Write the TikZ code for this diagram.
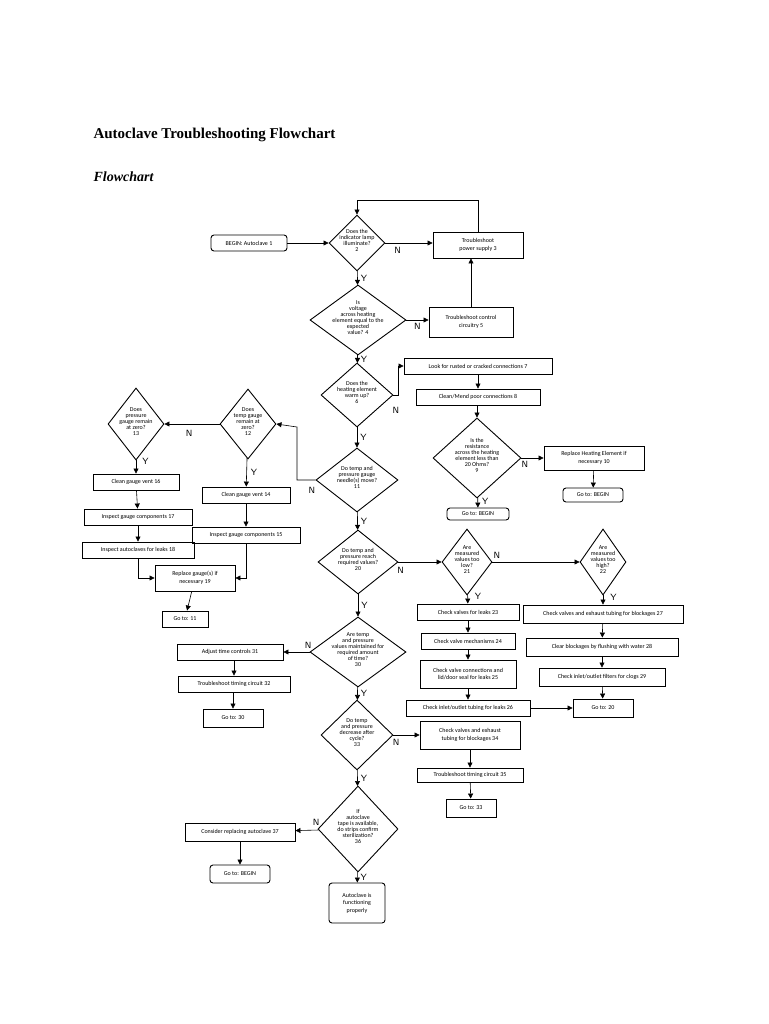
\documentclass[tikz,border=0pt]{standalone}
\usepackage{fontspec}
\setmainfont{Liberation Serif}
\newfontfamily\boxfont{Carlito}
\usetikzlibrary{shapes.geometric,arrows.meta}
\newcommand{\dtext}[1]{\smash{\makebox[0pt]{\renewcommand\arraystretch{0.8}\begin{tabular}{@{}c@{}}#1\end{tabular}}}}
\tikzset{
  box/.style={draw,line width=0.9pt,inner sep=1pt,align=center,font=\boxfont\fontsize{6}{7.5}\selectfont},
  rbox/.style={box,rounded corners=3pt},
  dia/.style={draw,diamond,line width=0.9pt,inner sep=0pt,font=\boxfont\fontsize{6}{7.5}\selectfont},
  arr/.style={line width=0.6pt,-{Triangle[length=5pt,width=5pt]}},
  ln/.style={font=\sffamily\fontsize{9}{9}\selectfont,inner sep=1pt}
}
\begin{document}
\begin{tikzpicture}[x=1pt,y=-1pt]
\useasboundingbox (0,0) rectangle (768,1024);
\node[anchor=west,font=\bfseries\fontsize{15}{15}\selectfont] (title) at (90,135) {Autoclave Troubleshooting Flowchart};
\node[anchor=west,font=\bfseries\itshape\fontsize{14}{14}\selectfont] (sub) at (90,177) {Flowchart};

% nodes
\node[rbox,minimum width=76pt,minimum height=16pt] (begin) at (249,243) {BEGIN: Autoclave 1};
\node[dia,minimum width=56pt,minimum height=56pt] (d2) at (357,243) {\dtext{Does the\\indicator lamp\\illuminate?\\2}};
\node[box,minimum width=90pt,minimum height=26pt] (p3) at (478,245) {Troubleshoot\\power supply 3};
\node[dia,minimum width=96pt,minimum height=70pt] (d4) at (358,320) {\dtext{Is\\voltage\\across heating\\element equal to the\\expected\\value? 4}};
\node[box,minimum width=84pt,minimum height=30pt] (c5) at (471,322) {Troubleshoot control\\circuitry 5};
\node[dia,minimum width=72pt,minimum height=64pt] (d6) at (357,395) {\dtext{Does the\\heating element\\warm up?\\6}};
\node[box,minimum width=148pt,minimum height=16pt] (r7) at (478,366) {Look for rusted or cracked connections 7};
\node[box,minimum width=124pt,minimum height=16pt] (r8) at (478,397) {Clean/Mend poor connections 8};
\node[dia,minimum width=88pt,minimum height=80pt] (d9) at (477,458) {\dtext{Is the\\resistance\\across the heating\\element less than\\20 Ohms?\\9}};
\node[box,minimum width=100pt,minimum height=24pt] (r10) at (594,458) {Replace Heating Element if\\necessary 10};
\node[rbox,minimum width=62pt,minimum height=12pt] (g9) at (478,514) {Go to: BEGIN};
\node[rbox,minimum width=60pt,minimum height=14pt] (g10) at (593,495) {Go to: BEGIN};
\node[dia,minimum width=82pt,minimum height=64pt] (d11) at (357,480) {\dtext{Do temp and\\pressure gauge\\needle(s) move?\\11}};
\node[dia,minimum width=56pt,minimum height=70pt] (d12) at (248,424) {\dtext{Does\\temp gauge\\remain at\\zero?\\12}};
\node[dia,minimum width=56pt,minimum height=72pt] (d13) at (136,424) {\dtext{Does\\pressure\\gauge remain\\at zero?\\13}};
\node[box,minimum width=88pt,minimum height=16pt] (r14) at (246,495) {Clean gauge vent 14};
\node[box,minimum width=108pt,minimum height=16pt] (r15) at (246,535) {Inspect gauge components 15};
\node[box,minimum width=86pt,minimum height=16pt] (r16) at (136,482) {Clean gauge vent 16};
\node[box,minimum width=108pt,minimum height=16pt] (r17) at (138,517) {Inspect gauge components 17};
\node[box,minimum width=112pt,minimum height=16pt] (r18) at (138,550) {Inspect autoclaves for leaks 18};
\node[box,minimum width=80pt,minimum height=26pt] (r19) at (195,578) {Replace gauge(s) if\\necessary 19};
\node[box,minimum width=46pt,minimum height=16pt] (g11) at (185,619) {Go to: 11};
\node[dia,minimum width=80pt,minimum height=64pt] (d20) at (358,562) {\dtext{Do temp and\\pressure reach\\required values?\\20}};
\node[dia,minimum width=50pt,minimum height=66pt] (d21) at (467,562) {\dtext{Are\\measured\\values too\\low?\\21}};
\node[dia,minimum width=46pt,minimum height=66pt] (d22) at (603,562) {\dtext{Are\\measured\\values too\\high?\\22}};
\node[box,minimum width=102pt,minimum height=16pt] (r23) at (468,612) {Check valves for leaks 23};
\node[box,minimum width=94pt,minimum height=16pt] (r24) at (468,641) {Check valve mechanisms 24};
\node[box,minimum width=96pt,minimum height=28pt] (r25) at (468,674) {Check valve connections and\\lid/door seal for leaks 25};
\node[box,minimum width=124pt,minimum height=16pt] (r26) at (468,708) {Check inlet/outlet tubing for leaks 26};
\node[box,minimum width=160pt,minimum height=18pt] (r27) at (603,614) {Check valves and exhaust tubing for blockages 27};
\node[box,minimum width=152pt,minimum height=18pt] (r28) at (602,647) {Clear blockages by flushing with water 28};
\node[box,minimum width=126pt,minimum height=18pt] (r29) at (602,677) {Check inlet/outlet filters for clogs 29};
\node[box,minimum width=60pt,minimum height=18pt] (g20) at (603,708) {Go to: 20};
\node[dia,minimum width=96pt,minimum height=70pt] (d30) at (358,652) {\dtext{Are temp\\and pressure\\values maintained for\\required amount\\of time?\\30}};
\node[box,minimum width=106pt,minimum height=16pt] (r31) at (230,652) {Adjust time controls 31};
\node[box,minimum width=112pt,minimum height=16pt] (r32) at (234,684) {Troubleshoot timing circuit 32};
\node[box,minimum width=60pt,minimum height=18pt] (g30) at (233,718) {Go to: 30};
\node[dia,minimum width=72pt,minimum height=70pt] (d33) at (357,735) {\dtext{Do temp\\and pressure\\decrease after\\cycle?\\33}};
\node[box,minimum width=100pt,minimum height=28pt] (r34) at (470,735) {Check valves and exhaust\\tubing for blockages 34};
\node[box,minimum width=106pt,minimum height=14pt] (r35) at (470,775) {Troubleshoot timing circuit 35};
\node[box,minimum width=50pt,minimum height=18pt] (g33) at (471,808) {Go to: 33};
\node[dia,minimum width=80pt,minimum height=86pt] (d36) at (358,829) {\dtext{If\\autoclave\\tape is available,\\do strips confirm\\sterilization?\\36}};
\node[box,minimum width=110pt,minimum height=18pt] (r37) at (240,832) {Consider replacing autoclave 37};
\node[rbox,minimum width=60pt,minimum height=18pt] (gb2) at (240,874) {Go to: BEGIN};
\node[rbox,minimum width=56pt,minimum height=40pt] (end) at (357,903) {Autoclave is\\functioning\\properly};

% connectors
\draw[arr] (begin) -- (d2);
\draw[arr] (d2) -- (p3.west |- d2) node[ln,pos=0.1,below right=3pt] {N};
\draw[arr] (p3.north) |- (357,200) -- (d2.north);
\draw[arr] (d2) -- (d4) node[ln,midway,right=2pt] {Y};
\draw[arr] (d4) -- (c5.west |- d4) node[ln,pos=0.2,below right=2pt] {N};
\draw[arr] (c5.north) -- (c5.north |- p3.south);
\draw[arr] (d4) -- (d6) node[ln,midway,right=2pt] {Y};
\draw[arr] (d6.east) -- (398,395) |- (r7.west);
\node[ln] (n6) at (396,410) {N};
\draw[arr] (r7) -- (r8);
\draw[arr] (r8.south) -- (r8.south -| d9) -- (d9.north);
\draw[arr] (d9) -- (r10) node[ln,pos=0.15,below=2pt] {N};
\draw[arr] (d9) -- (g9) node[ln,pos=0.35,right=3pt] {Y};
\draw[arr] (r10) -- (g10);
\draw[arr] (d6) -- (d11) node[ln,midway,right=2pt] {Y};
\draw[arr] (d11.west) -| (297,427) -- (d12.east);
\node[ln] (n11) at (312,490) {N};
\draw[arr] (d12) -- (d13) node[ln,pos=0.55,below=5pt] {N};
\draw[arr] (d12) -- (r14) node[ln,midway,right=3pt] {Y};
\draw[arr] (r14) -- (r15);
\draw[arr] (d13) -- (r16) node[ln,pos=0.1,right=5pt] {Y};
\draw[arr] (r16) -- (r17);
\draw[arr] (r17) -- (r18);
\draw[arr] (r18.south) |- (r19.west);
\draw[arr] (r15.south) |- (r19.east);
\draw[arr] (r19) -- (g11);
\draw[arr] (d11) -- (d20) node[ln,midway,right=2pt] {Y};
\draw[arr] (d20) -- (d21) node[ln,pos=0.05,below=4pt] {N};
\draw[arr] (d21) -- (d22) node[ln,pos=0.05,above=2pt] {N};
\draw[arr] (d21) -- (r23) node[ln,pos=0.2,right=6pt] {Y};
\draw[arr] (d22) -- (r27) node[ln,pos=0.2,right=6pt] {Y};
\draw[arr] (r23) -- (r24);
\draw[arr] (r24) -- (r25);
\draw[arr] (r25) -- (r26);
\draw[arr] (r26) -- (g20);
\draw[arr] (r27) -- (r28);
\draw[arr] (r28) -- (r29);
\draw[arr] (r29) -- (g20);
\draw[arr] (d20) -- (d30) node[ln,midway,right=2pt] {Y};
\draw[arr] (d30) -- (r31) node[ln,pos=0.05,above=2pt] {N};
\draw[arr] (r31.south -| r32) -- (r32);
\draw[arr] (r32.south -| g30) -- (g30);
\draw[arr] (d30) -- (d33) node[ln,midway,right=2pt] {Y};
\draw[arr] (d33) -- (r34) node[ln,pos=0.1,below=3pt] {N};
\draw[arr] (r34) -- (r35);
\draw[arr] (r35) -- (g33);
\draw[arr] (d33) -- (d36) node[ln,midway,right=2pt] {Y};
\draw[arr] (d36) -- (r37) node[ln,pos=0.1,above=3pt] {N};
\draw[arr] (r37) -- (gb2);
\draw[arr] (d36) -- (end) node[ln,midway,right=2pt] {Y};
\end{tikzpicture}
\end{document}
